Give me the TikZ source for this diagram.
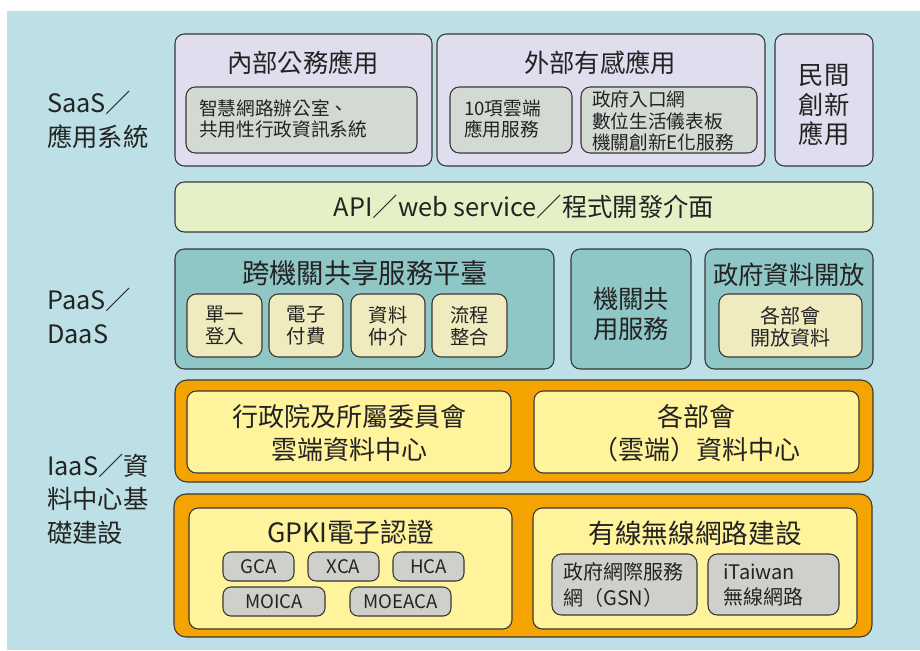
\documentclass[tikz,border=0pt]{standalone}
\usepackage{fontspec}
\setmainfont{Noto Sans CJK TC}
\definecolor{skyback}{RGB}{188,224,229}
\definecolor{lavender}{RGB}{224,222,238}
\definecolor{sagegray}{RGB}{211,217,211}
\definecolor{apigreen}{RGB}{230,240,198}
\definecolor{tealbox}{RGB}{143,198,198}
\definecolor{creambox}{RGB}{239,235,190}
\definecolor{orangebox}{RGB}{245,163,0}
\definecolor{lemonbox}{RGB}{255,243,155}
\definecolor{cagray}{RGB}{208,208,203}
\definecolor{edgegray}{RGB}{55,55,55}
\definecolor{inkgray}{RGB}{35,35,35}
\begin{document}
\begin{tikzpicture}[x=0.75pt,y=0.75pt,yscale=-1,xscale=1,
  box/.style={draw=edgegray,line width=0.8pt,rounded corners=7pt},
  layer/.style={font=\fontsize{19}{25}\selectfont,text=inkgray,align=left,anchor=west,inner sep=0pt},
  title/.style={font=\fontsize{19}{23}\selectfont,text=inkgray,align=center,inner sep=0pt},
  small/.style={font=\fontsize{14}{16}\selectfont,text=inkgray,inner sep=0pt},
  calabel/.style={font=\fontsize{14}{16}\selectfont,text=inkgray,inner sep=0pt}]

% background
\fill [white] (0,0) rectangle (920,650);
\fill [skyback] (7,11) rectangle (920,650);

% layer labels on the left
\node [layer] (saas) at (47,120) {SaaS／\\應用系統};
\node [layer] (paas) at (47,316) {PaaS／\\DaaS};
\node [layer] (iaas) at (47,499) {IaaS／資\\料中心基\\礎建設};

%SaaS boxes
\draw [box,fill=lavender] (175,34) rectangle (432,166);
\draw [box,fill=sagegray] (186,87) rectangle (417,153);
\draw [box,fill=lavender] (437,34) rectangle (765,166);
\draw [box,fill=sagegray] (450,87) rectangle (572,153);
\draw [box,fill=sagegray] (581,87) rectangle (757,153);
\draw [box,fill=lavender] (775,34) rectangle (873,166);

\node [title] (internal) at (303,63) {內部公務應用};
\node [small,align=left,anchor=west] (office) at (199,119) {智慧網路辦公室、\\共用性行政資訊系統};
\node [title] (external) at (600,63) {外部有感應用};
\node [small,align=left,anchor=west] (cloudapp) at (464,119) {10項雲端\\應用服務};
\node [small,align=left,anchor=west] (portal) at (592,121) {政府入口網\\數位生活儀表板\\機關創新E化服務};
\node [title,font=\fontsize{19}{22}\selectfont] (private) at (824,105) {民間\\創新\\應用};

% API bar
\draw [box,fill=apigreen] (175,182) rectangle (873,232);
\node [title] (api) at (524,207) {API／web service／程式開發介面};

%PaaS boxes
\draw [box,fill=tealbox] (175,249) rectangle (554,369);
\draw [box,fill=tealbox] (571,249) rectangle (691,369);
\draw [box,fill=tealbox] (705,249) rectangle (873,369);
\draw [box,fill=creambox] (187,294) rectangle (262,357);
\draw [box,fill=creambox] (269,294) rectangle (343,357);
\draw [box,fill=creambox] (351,294) rectangle (425,357);
\draw [box,fill=creambox] (432,294) rectangle (507,357);
\draw [box,fill=creambox] (719,294) rectangle (862,357);

\node [title,font=\fontsize{20.5}{23}\selectfont] (platform) at (365,273) {跨機關共享服務平臺};
\node [small,align=center,font=\fontsize{14.5}{16.5}\selectfont] (sso) at (224.5,326) {單一\\登入};
\node [small,align=center,font=\fontsize{14.5}{16.5}\selectfont] (epay) at (306,326) {電子\\付費};
\node [small,align=center,font=\fontsize{14.5}{16.5}\selectfont] (broker) at (388,326) {資料\\仲介};
\node [small,align=center,font=\fontsize{14.5}{16.5}\selectfont] (flow) at (469.5,326) {流程\\整合};
\node [title,font=\fontsize{19}{22.5}\selectfont] (shared) at (631,314) {機關共\\用服務};
\node [title] (opendata) at (789,275) {政府資料開放};
\node [small,align=center,font=\fontsize{15}{16.5}\selectfont] (ministry) at (790.5,327) {各部會\\開放資料};

%IaaS boxes
\draw [box,fill=orangebox,rounded corners=9pt] (175,380) rectangle (873,482);
\draw [box,fill=lemonbox] (187,391) rectangle (511,473);
\draw [box,fill=lemonbox] (534,391) rectangle (859,473);
\node [title,font=\fontsize{19.5}{25}\selectfont] (eycenter) at (349,433) {行政院及所屬委員會\\雲端資料中心};
\node [title,font=\fontsize{19.5}{25}\selectfont] (mincenter) at (696.5,433) {各部會\\（雲端）資料中心};

\draw [box,fill=orangebox,rounded corners=9pt] (174,494) rectangle (872,637);
\draw [box,fill=lemonbox] (189,508) rectangle (512,629);
\draw [box,fill=lemonbox] (533,508) rectangle (857,629);
\node [title,font=\fontsize{20}{23}\selectfont] (gpki) at (350.5,532) {GPKI電子認證};
\node [title,font=\fontsize{20}{23}\selectfont] (network) at (695,533) {有線無線網路建設};

% certificate authorities
\foreach \name/\xa/\ya/\xb/\yb in {GCA/223/552/294/581, XCA/308/552/379/581, HCA/393/552/464/581,
    MOICA/223/587/325/616, MOEACA/350/587/451/616}{
  \draw [box,fill=cagray,rounded corners=6pt] (\xa,\ya) rectangle (\xb,\yb);
  \node [calabel] (ca\name) at ({(\xa+\xb)/2},{(\ya+\yb)/2}) {\name};
}

\draw [box,fill=cagray] (552,554) rectangle (697,615);
\draw [box,fill=cagray] (708,554) rectangle (839,615);
\node [small,align=left,anchor=west,font=\fontsize{15}{19}\selectfont] (gsn) at (563,585) {政府網際服務\\網（GSN）};
\node [small,align=left,anchor=west,font=\fontsize{15}{19}\selectfont] (itaiwan) at (723,585) {iTaiwan\\無線網路};
\end{tikzpicture}
\end{document}
